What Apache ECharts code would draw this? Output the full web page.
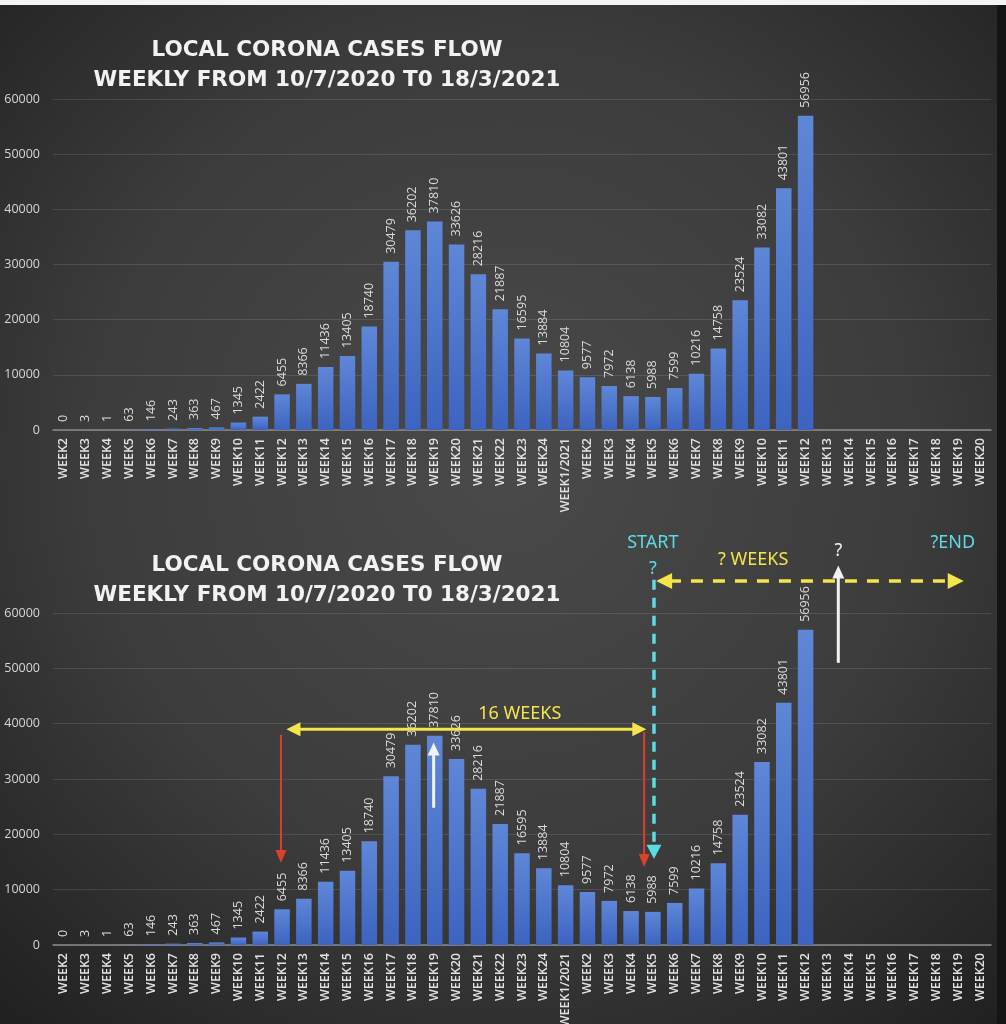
<!DOCTYPE html>
<html><head><meta charset="utf-8">
<script src="https://cdn.jsdelivr.net/npm/echarts@6/dist/echarts.min.js"></script>
<style>html,body{margin:0;padding:0;background:#333}#c{width:1006px;height:1024px}</style>
</head><body><div id="c"></div>
<script>
// ---------- DATA ----------
const categories = ['WEEK2','WEEK3','WEEK4','WEEK5','WEEK6','WEEK7','WEEK8','WEEK9','WEEK10','WEEK11','WEEK12','WEEK13','WEEK14','WEEK15','WEEK16','WEEK17','WEEK18','WEEK19','WEEK20','WEEK21','WEEK22','WEEK23','WEEK24','WEEK1/2021','WEEK2','WEEK3','WEEK4','WEEK5','WEEK6','WEEK7','WEEK8','WEEK9','WEEK10','WEEK11','WEEK12','WEEK13','WEEK14','WEEK15','WEEK16','WEEK17','WEEK18','WEEK19','WEEK20'];
const cases = [0,3,1,63,146,243,363,467,1345,2422,6455,8366,11436,13405,18740,30479,36202,37810,33626,28216,21887,16595,13884,10804,9577,7972,6138,5988,7599,10216,14758,23524,33082,43801,56956,null,null,null,null,null,null,null,null];
const yMax = 60000;
const yStep = 10000;
const titleLines = ['LOCAL CORONA CASES FLOW', 'WEEKLY FROM 10/7/2020 T0 18/3/2021'];

// annotation anchors for the lower chart, in data units [category index, cases]
const redArrowTop = [[9.95, 38000], [26.6, 38500]];
const redArrowTip = [[9.95, 14800], [26.6, 14100]];
const spanArrow = [[10.2, 39000], [26.7, 39000]];
const spanLabel = {text: '16 WEEKS', at: [20.9, 41800]};
const peakArrow = [[16.95, 24800], [16.95, 36600]];
const startLine = [[27.05, 66000], [27.05, 15600]];
const startLabels = [{text: 'START', at: [27.0, 72700]}, {text: '?', at: [27.0, 67900]}];
const futureArrow = [[27.15, 65800], [41.25, 65800]];
const futureLabel = {text: '? WEEKS', at: [31.6, 69600]};
const riseArrow = [[35.5, 51000], [35.5, 68600]];
const riseLabel = {text: '?', at: [35.5, 71300]};
const endLabel = {text: '?END', at: [40.75, 72700]};

// ---------- CHART ----------
const chart = echarts.init(document.getElementById('c'), null, {renderer: 'canvas'});
const grids = [
  {left: 53, right: 15, top: 99, bottom: 594, outerBoundsMode: 'none', containLabel: false},
  {left: 53, right: 15, top: 613, bottom: 79, outerBoundsMode: 'none', containLabel: false}
];
const barColor = new echarts.graphic.LinearGradient(0, 0, 0, 1, [
  {offset: 0, color: '#5e87d8'}, {offset: 1, color: '#3c64c0'}
]);
function xAxis(i) {
  return {
    type: 'category', gridIndex: i, data: categories,
    axisTick: {show: false},
    axisLine: {lineStyle: {color: '#8a8a8a', width: 1.5}},
    axisLabel: {interval: 0, rotate: 90, margin: 8, color: '#e2e2e2', fontSize: 12.5, fontWeight: 600, fontFamily: 'Open Sans'}
  };
}
function yAxis(i) {
  return {
    type: 'value', gridIndex: i, min: 0, max: yMax, interval: yStep,
    axisLine: {show: false}, axisTick: {show: false},
    splitLine: {lineStyle: {color: 'rgba(255,255,255,0.11)', width: 1}},
    axisLabel: {margin: 13, color: '#d6d6d6', fontSize: 12.5, fontFamily: 'Open Sans', formatter: v => String(v)}
  };
}
function series(i) {
  return {
    type: 'bar', xAxisIndex: i, yAxisIndex: i, data: cases, barWidth: '71%',
    itemStyle: {color: barColor},
    label: {show: true, position: 'top', rotate: 90, align: 'left', verticalAlign: 'middle', distance: 8,
      color: '#dadada', fontSize: 12.5, fontFamily: 'Open Sans'}
  };
}
chart.setOption({
  animation: false,
  backgroundColor: {
    type: 'radial', x: 0.5, y: 0.45, r: 0.75,
    colorStops: [{offset: 0, color: '#4a4a4a'}, {offset: 0.55, color: '#3c3c3c'}, {offset: 1, color: '#202020'}]
  },
  grid: grids,
  xAxis: [xAxis(0), xAxis(1)],
  yAxis: [yAxis(0), yAxis(1)],
  series: [series(0), series(1)]
});

// ---------- ANNOTATIONS ----------
function P(g, pt) {
  const a = chart.convertToPixel({gridIndex: g}, [0, pt[1]]);
  const b = chart.convertToPixel({gridIndex: g}, [1, pt[1]]);
  return [a[0] + (b[0] - a[0]) * pt[0], a[1]];
}
function head(tip, from, color, len, w) {
  const dx = tip[0] - from[0], dy = tip[1] - from[1];
  const L = Math.hypot(dx, dy), ux = dx / L, uy = dy / L;
  const bx = tip[0] - ux * len, by = tip[1] - uy * len;
  const px = -uy, py = ux;
  return {type: 'polygon', silent: true, z: 20,
    shape: {points: [tip, [bx + px * w / 2, by + py * w / 2], [bx - px * w / 2, by - py * w / 2]]},
    style: {fill: color}};
}
function arrow(p1, p2, color, width, dash, startHead, endHead, len, w) {
  const dx = p2[0] - p1[0], dy = p2[1] - p1[1];
  const L = Math.hypot(dx, dy), ux = dx / L, uy = dy / L;
  const s = startHead ? [p1[0] + ux * len * 0.8, p1[1] + uy * len * 0.8] : p1;
  const e = endHead ? [p2[0] - ux * len * 0.8, p2[1] - uy * len * 0.8] : p2;
  const els = [{type: 'line', silent: true, z: 19,
    shape: {x1: s[0], y1: s[1], x2: e[0], y2: e[1]},
    style: {stroke: color, lineWidth: width, lineDash: dash || null}}];
  if (startHead) els.push(head(p1, p2, color, len, w));
  if (endHead) els.push(head(p2, p1, color, len, w));
  return els;
}
function label(t, pos, color, size) {
  return {type: 'text', silent: true, z: 21, x: pos[0], y: pos[1],
    style: {text: t, fill: color, font: size + 'px "Liberation Sans Narrow", "Noto Sans", sans-serif',
      align: 'center', verticalAlign: 'middle'}};
}
function titleText(t, x, y) {
  return {type: 'text', silent: true, z: 21, x: x, y: y,
    style: {text: t, fill: '#f2f2f2', font: 'bold 21.5px "DejaVu Sans", sans-serif',
      align: 'center', verticalAlign: 'middle',
      shadowColor: 'rgba(0,0,0,0.7)', shadowBlur: 3, shadowOffsetX: 1, shadowOffsetY: 1}};
}
const YEL = '#f3e54a', RED = '#d8412b', CYAN = '#5cdbe2', WHITE = '#f2f2f2';
let g = [];
g.push({type: 'rect', silent: true, z: 30, shape: {x: 0, y: 0, width: 1006, height: 5}, style: {fill: '#f4f4f4'}});
g.push({type: 'rect', silent: true, z: 30, shape: {x: 997, y: 5, width: 9, height: 1019}, style: {fill: '#141414'}});
titleLines.forEach((t, i) => {
  g.push(titleText(t, 327, 50 + i * 30));
  g.push(titleText(t, 327, 565 + i * 30));
});
for (let i = 0; i < redArrowTop.length; i++) {
  g = g.concat(arrow(P(1, redArrowTop[i]), P(1, redArrowTip[i]), RED, 2, null, false, true, 13, 11));
}
g = g.concat(arrow(P(1, spanArrow[0]), P(1, spanArrow[1]), YEL, 3, null, true, true, 14, 14));
g.push(label(spanLabel.text, P(1, spanLabel.at), YEL, 18));
g = g.concat(arrow(P(1, peakArrow[0]), P(1, peakArrow[1]), WHITE, 3, null, false, true, 13, 12));
g = g.concat(arrow(P(1, startLine[0]), P(1, startLine[1]), CYAN, 3.5, [10, 8], false, true, 14, 15));
startLabels.forEach(l => g.push(label(l.text, P(1, l.at), CYAN, 18)));
g = g.concat(arrow(P(1, futureArrow[0]), P(1, futureArrow[1]), YEL, 3.5, [12, 10], true, true, 16, 16));
g.push(label(futureLabel.text, P(1, futureLabel.at), YEL, 18));
g = g.concat(arrow(P(1, riseArrow[0]), P(1, riseArrow[1]), WHITE, 3, null, false, true, 13, 12));
g.push(label(riseLabel.text, P(1, riseLabel.at), WHITE, 18));
g.push(label(endLabel.text, P(1, endLabel.at), CYAN, 18));
chart.setOption({graphic: {elements: g}});
</script>
</body></html>
